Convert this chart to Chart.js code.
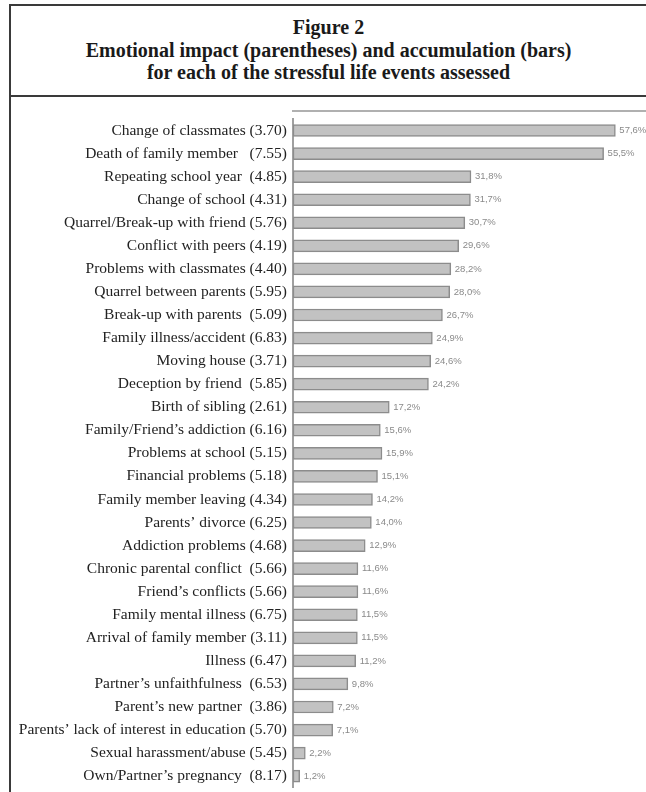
<!DOCTYPE html>
<html lang="en">
<head>
    <meta charset="UTF-8" />
    <title>Figure 2</title>
    <style>
        body {
            margin: 0;
            background: #fff;
            width: 646px;
            height: 792px;
            overflow: hidden;
            position: relative;
            font-family: 'Liberation Serif', 'Times New Roman', serif;
        }
        .frame {
            position: absolute;
            left: 9px;
            top: 4px;
            width: 700px;
            height: 900px;
            border-left: 2px solid #3a3a3a;
            border-top: 2px solid #3a3a3a;
        }
        .title {
            position: absolute;
            left: 11px;
            top: 6px;
            width: 635px;
            height: 91px;
            border-bottom: 2px solid #3a3a3a;
            text-align: center;
            font-weight: bold;
            font-size: 20px;
            line-height: 22.5px;
            color: #1a1a1a;
            padding-top: 10px;
            box-sizing: border-box;
        }
        .chart-container {
            position: absolute;
            left: 12px;
            top: 100px;
            width: 634px;
            height: 703px;
        }
    </style>
    <script src="https://cdn.jsdelivr.net/npm/chart.js"></script>
</head>
<body>
    <div class="frame"></div>
    <div class="title">
        Figure 2<br>
        Emotional impact (parentheses) and accumulation (bars)<br>
        for each of the stressful life events assessed
    </div>
    <div class="chart-container">
        <canvas id="eventsChart"></canvas>
    </div>

    <script>
        // life events, with emotional impact in parentheses
        const events = [
            'Change of classmates (3.70)',
            'Death of family member   (7.55)',
            'Repeating school year  (4.85)',
            'Change of school (4.31)',
            'Quarrel/Break-up with friend (5.76)',
            'Conflict with peers (4.19)',
            'Problems with classmates (4.40)',
            'Quarrel between parents (5.95)',
            'Break-up with parents  (5.09)',
            'Family illness/accident (6.83)',
            'Moving house (3.71)',
            'Deception by friend  (5.85)',
            'Birth of sibling (2.61)',
            'Family/Friend\u2019s addiction (6.16)',
            'Problems at school (5.15)',
            'Financial problems (5.18)',
            'Family member leaving (4.34)',
            'Parents\u2019 divorce (6.25)',
            'Addiction problems (4.68)',
            'Chronic parental conflict  (5.66)',
            'Friend\u2019s conflicts (5.66)',
            'Family mental illness (6.75)',
            'Arrival of family member (3.11)',
            'Illness (6.47)',
            'Partner\u2019s unfaithfulness  (6.53)',
            'Parent\u2019s new partner  (3.86)',
            'Parents\u2019 lack of interest in education (5.70)',
            'Sexual harassment/abuse (5.45)',
            'Own/Partner\u2019s pregnancy  (8.17)'
        ];

        // accumulation (%)
        const accumulation = [
            57.6, 55.5, 31.8, 31.7, 30.7, 29.6, 28.2, 28.0, 26.7, 24.9,
            24.6, 24.2, 17.2, 15.6, 15.9, 15.1, 14.2, 14.0, 12.9, 11.6,
            11.6, 11.5, 11.5, 11.2, 9.8, 7.2, 7.1, 2.2, 1.2
        ];

        const xMax = 62;

        // percentage labels at the end of each bar
        const valueLabels = {
            id: 'valueLabels',
            afterDatasetsDraw(chart) {
                const ctx = chart.ctx;
                const meta = chart.getDatasetMeta(0);
                ctx.save();
                ctx.font = '9.5px "Liberation Sans", sans-serif';
                ctx.fillStyle = '#8a8a8a';
                ctx.textAlign = 'left';
                ctx.textBaseline = 'middle';
                meta.data.forEach((bar, i) => {
                    const txt = accumulation[i].toFixed(1).replace('.', ',') + '%';
                    ctx.fillText(txt, bar.x + 4, bar.y);
                });
                ctx.restore();
            }
        };

        // thin grey rule above the plot
        const topRule = {
            id: 'topRule',
            beforeDraw(chart) {
                const { ctx, chartArea } = chart;
                ctx.save();
                ctx.strokeStyle = '#b0b0b0';
                ctx.lineWidth = 2;
                ctx.beginPath();
                ctx.moveTo(chartArea.left - 1, chartArea.top - 8);
                ctx.lineTo(chart.width, chartArea.top - 8);
                ctx.stroke();
                ctx.restore();
            }
        };

        function initChart() {
            const ctx = document.getElementById('eventsChart').getContext('2d');
            new Chart(ctx, {
                type: 'bar',
                data: {
                    labels: events,
                    datasets: [{
                        data: accumulation,
                        backgroundColor: '#c2c2c2',
                        borderColor: '#8c8c8c',
                        borderWidth: 1.5,
                        borderSkipped: false,
                        barThickness: 12
                    }]
                },
                options: {
                    indexAxis: 'y',
                    responsive: true,
                    maintainAspectRatio: false,
                    animation: false,
                    layout: {
                        padding: { top: 19, bottom: 6, left: 0, right: 6 }
                    },
                    scales: {
                        x: {
                            display: false,
                            min: 0,
                            max: xMax
                        },
                        y: {
                            grid: { display: false, drawTicks: false },
                            border: { display: true, color: '#a0a0a0', width: 2 },
                            ticks: {
                                color: '#222',
                                padding: 6,
                                autoSkip: false,
                                font: { family: "'Liberation Serif', serif", size: 15.5 }
                            },
                            afterFit(scale) {
                                scale.width = 281;
                            }
                        }
                    },
                    plugins: {
                        legend: { display: false },
                        tooltip: { enabled: false }
                    }
                },
                plugins: [valueLabels, topRule]
            });
        }

        document.addEventListener('DOMContentLoaded', initChart);
    </script>
</body>
</html>
